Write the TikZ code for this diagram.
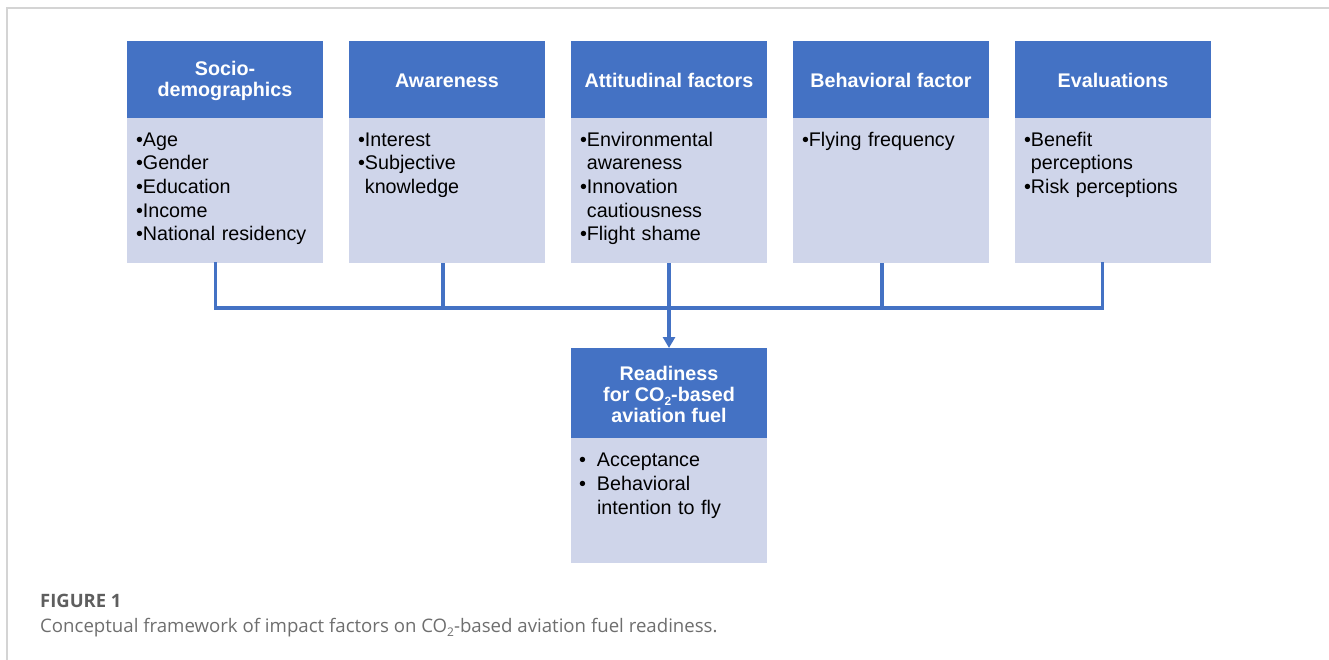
\documentclass[tikz,border=0pt]{standalone}
\usepackage{fontspec}
\setmainfont{Liberation Sans}
\newfontfamily\capfont{Open Sans}
\usetikzlibrary{arrows.meta,calc}
\definecolor{hdrblue}{HTML}{4472C4}
\definecolor{bodyblue}{HTML}{CFD5EA}
\definecolor{framegray}{HTML}{D4D4D4}
\definecolor{capgray}{HTML}{5E5E5E}
\definecolor{capgraylt}{HTML}{6E6E6E}
\newlength\mybulw
\newcommand\nl{\hfil\break}
\newcommand\itm[1]{\par\hyphenpenalty=10000 \exhyphenpenalty=10000 \settowidth{\mybulw}{•}\setlength{\hangindent}{\mybulw}\hangafter=1 \noindent•#1\par}
\newcommand\itmsp[1]{\par\hyphenpenalty=10000 \exhyphenpenalty=10000 \setlength{\hangindent}{18bp}\hangafter=1 \noindent\makebox[18bp][l]{•}#1\par}
\newcommand\subtwo{\raisebox{-0.22em}{\fontsize{12}{12}\selectfont 2}}
\tikzset{
  hdr/.style={rectangle, fill=hdrblue, minimum width=196bp, inner sep=0pt, anchor=north},
  htxt/.style={text=white, font=\bfseries\fontsize{19.8}{21}\selectfont, align=center, inner sep=0pt},
  bdy/.style={rectangle, fill=bodyblue, minimum width=196bp, inner sep=0pt, anchor=north},
  btxt/.style={anchor=north west, inner sep=0pt, text width=190bp, align=left,
    font=\fontsize{19.8}{23.7}\selectfont},
  conn/.style={draw=hdrblue, line width=3.3bp},
}
\begin{document}
\begin{tikzpicture}[x=1bp,y=-1bp]
\useasboundingbox (0,0) rectangle (1329,660);
% frame
\draw[framegray, line width=1.5bp] (7,660) -- (7,8) -- (1329,8);
% header boxes
\foreach \n/\x in {1/225,2/447,3/669,4/891,5/1113}{
  \node[hdr, minimum height=77bp] (h\n) at (\x,41) {};
  \node[bdy, minimum height=145bp] (b\n) at (\x,118) {};
}
\node[htxt] (t1) at ($(h1.center)+(0,1.5)$) {Socio-\\demographics};
\node[htxt] (t2) at ($(h2.center)+(0,1)$) {Awareness};
\node[htxt] (t3) at ($(h3.center)+(0,1)$) {Attitudinal factors};
\node[htxt] (t4) at ($(h4.center)+(0,1)$) {Behavioral factor};
\node[htxt] (t5) at ($(h5.center)+(0,1)$) {Evaluations};
% body texts
\node[btxt] (l1) at ($(b1.north west)+(9,4.5)$) {\itm{Age}\itm{Gender}\itm{Education}\itm{Income}\itm{National residency}};
\node[btxt] (l2) at ($(b2.north west)+(9,4.5)$) {\itm{Interest}\itm{Subjective\nl knowledge}};
\node[btxt] (l3) at ($(b3.north west)+(9,4.5)$) {\itm{Environmental\nl awareness}\itm{Innovation\nl cautiousness}\itm{Flight shame}};
\node[btxt] (l4) at ($(b4.north west)+(9,4.5)$) {\itm{Flying frequency}};
\node[btxt] (l5) at ($(b5.north west)+(9,4.5)$) {\itm{Benefit\nl perceptions}\itm{Risk perceptions}};
% readiness
\node[hdr, minimum height=90bp] (h6) at (669,348) {};
\node[bdy, minimum height=125bp] (b6) at (669,438) {};
\node[htxt] (t6) at ($(h6.center)+(0,1)$) {Readiness\\for CO\subtwo-based\\aviation fuel};
\node[btxt] (l6) at ($(b6.north west)+(8,5)$) {\itmsp{Acceptance}\itmsp{Behavioral\nl intention to fly}};
% connectors
\coordinate (j1) at ($(b1.south)+(-9.5,0)$);
\coordinate (j2) at ($(b2.south)+(-4,0)$);
\coordinate (j3) at (b3.south);
\coordinate (j4) at ($(b4.south)+(-9,0)$);
\coordinate (j5) at ($(b5.south)+(-10.5,0)$);
\draw[conn, line cap=rect] (j1) -- ($(j1)+(0,44.5)$) -| (j5);
\draw[conn] (j2) -- ($(j2)+(0,44.5)$);
\draw[conn] (j4) -- ($(j4)+(0,44.5)$);
\draw[conn, -{Triangle[width=12bp,length=11bp]}] (j3) -- (h6.north);
% caption
\node[anchor=west, inner sep=0pt, text=capgray, font=\capfont\bfseries\fontsize{18.5}{20}\selectfont] (fig) at (40,601) {FIGURE 1};
\node[anchor=west, inner sep=0pt, text=capgraylt, font=\capfont\fontsize{18.7}{20}\selectfont] (cap) at (40,628) {Conceptual framework of impact factors on CO\subtwo-based aviation fuel readiness.};
\end{tikzpicture}
\end{document}
